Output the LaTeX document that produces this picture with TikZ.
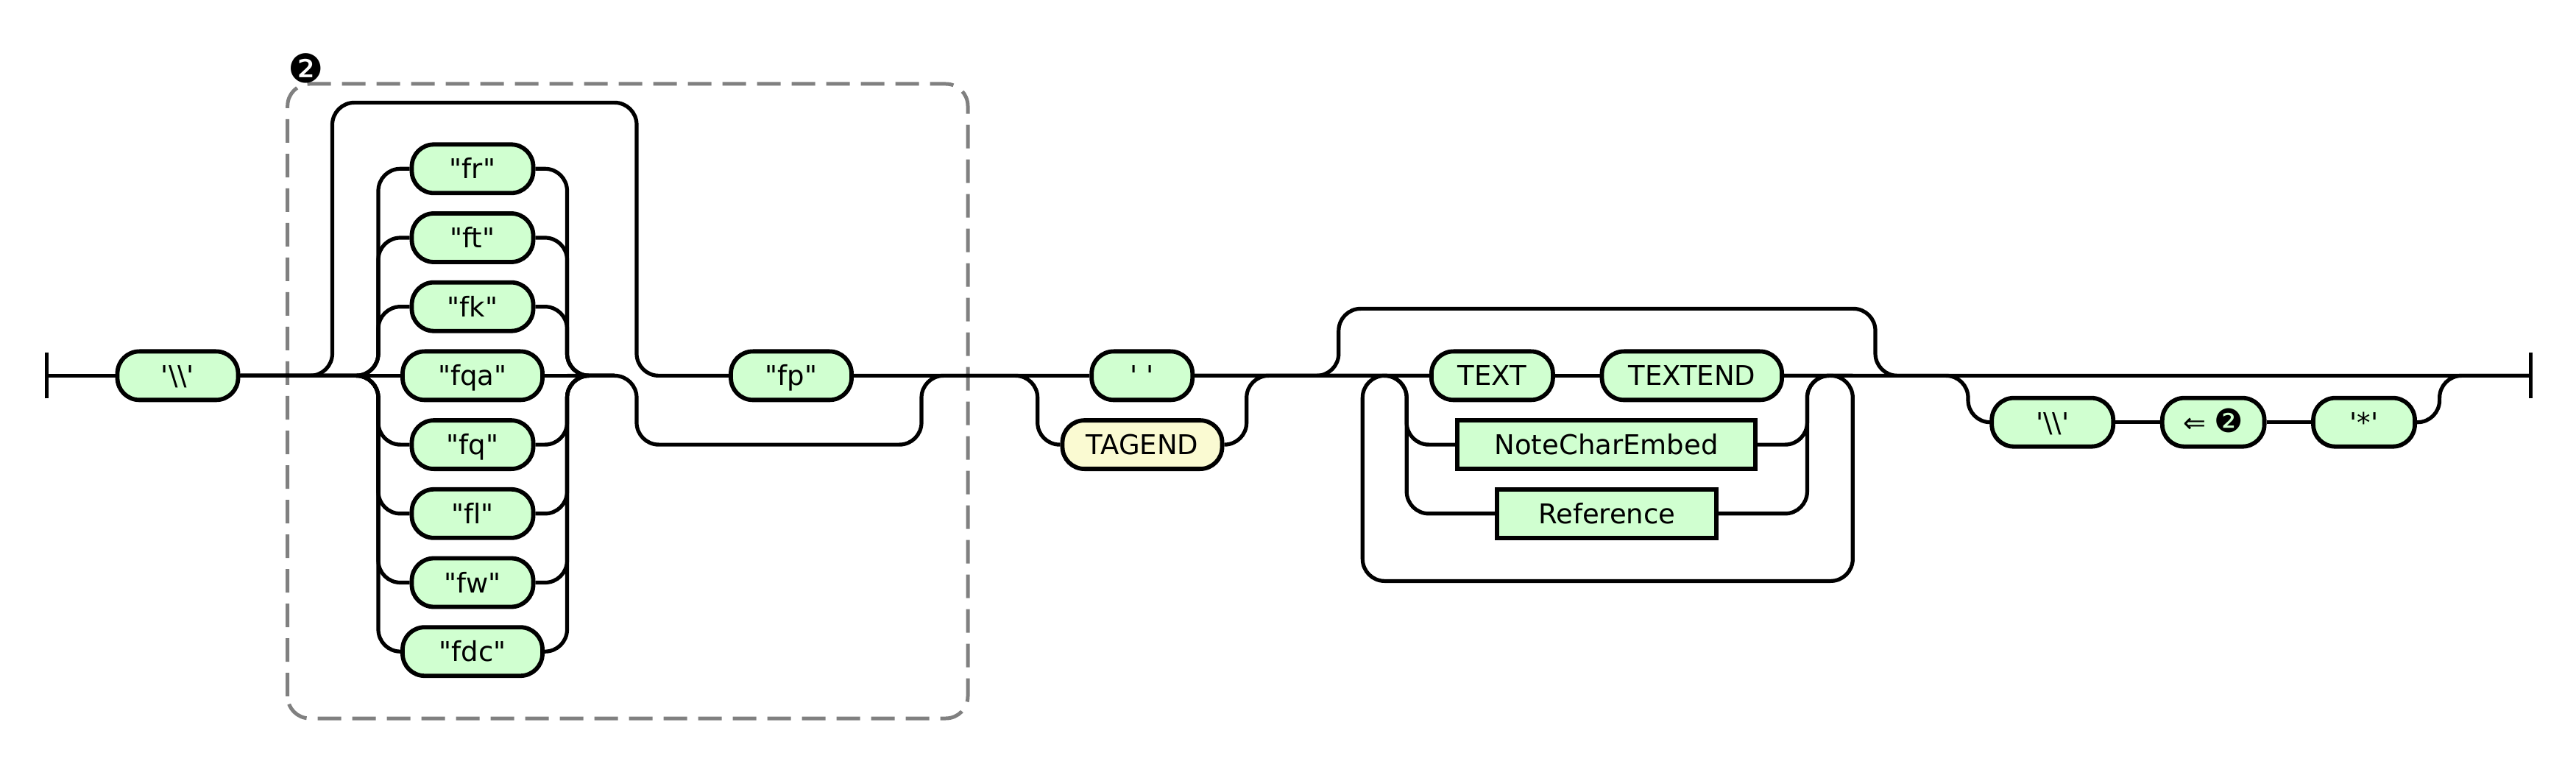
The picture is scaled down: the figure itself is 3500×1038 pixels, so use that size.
\documentclass[tikz,border=0pt]{standalone}
\usepackage{fontspec}
\setmainfont{DejaVu Sans}[Ligatures=NoCommon]
\usepackage{tikz}

\definecolor{termgreen}{RGB}{208,255,208}
\definecolor{tokyellow}{RGB}{250,250,210}
\definecolor{groupgray}{RGB}{128,128,128}

\newcommand{\sq}{\textquotesingle}
\newcommand{\dq}{\textquotedbl}
\newcommand{\grpmark}[1]{{\fontsize{#1}{#1}\selectfont ❷}}

\tikzset{
  term/.style={draw, line width=1.45pt, fill=termgreen, rounded corners=7.5pt,
    minimum height=16.5pt, inner sep=0pt, text height=6.75pt, text depth=0pt,
    font=\fontsize{9.25}{11}\selectfont},
  tok/.style={term, fill=tokyellow},
  nonterm/.style={term, rounded corners=0pt},
  rail/.style={line width=1.3pt, rounded corners=7.5pt},
  group/.style={draw=groupgray, line width=1.25pt, rounded corners=7.5pt,
    dash pattern=on 8pt off 3.75pt},
}

\begin{document}
\begin{tikzpicture}[x=0.25pt, y=0.25pt]
\useasboundingbox (0,-527.6) rectangle (3500,510.4);

%%%%%%%%%%%%%%%%%%Draw The Group Box%%%%%%%%%%%%%%%%%%
\draw[group] (390.7,-465.6) rectangle (1315,396.4);
\node[inner sep=0pt] (grpLabel) at (415.7,418) {\grpmark{13.5}};

%%%%%%%%%%%%%%%%%%Draw The Nodes%%%%%%%%%%%%%%%%%%
\node[term, minimum width=41pt] (bsA) at (241.5,0) {\sq\textbackslash\textbackslash\sq};

\node[term, minimum width=41.25pt] (fr) at (642,281.1) {\dq fr\dq};
\node[term, minimum width=41.25pt] (ft) at (642,187.4) {\dq ft\dq};
\node[term, minimum width=41.25pt] (fk) at (642,93.7) {\dq fk\dq};
\node[term, minimum width=47.5pt] (fqa) at (642,0) {\dq fqa\dq};
\node[term, minimum width=41.25pt] (fq) at (642,-93.7) {\dq fq\dq};
\node[term, minimum width=41.25pt] (fl) at (642,-187.4) {\dq fl\dq};
\node[term, minimum width=41.25pt] (fw) at (642,-281.1) {\dq fw\dq};
\node[term, minimum width=47.5pt] (fdc) at (642,-374.8) {\dq fdc\dq};

\node[term, minimum width=41pt] (fp) at (1075,0) {\dq fp\dq};

\node[term, minimum width=34.25pt] (sp) at (1551.7,0) {\sq\ \sq};
\node[tok, minimum width=54.25pt] (tag) at (1552,-93.7) {TAGEND};

\node[term, minimum width=41.25pt] (text) at (2027.4,0) {TEXT};
\node[term, minimum width=61.15pt] (textend) at (2298.8,0) {TEXTEND};
\node[nonterm, minimum width=101.25pt] (nce) at (2182.6,-93.7) {NoteCharEmbed};
\node[nonterm, minimum width=74.5pt] (ref) at (2183.3,-187.4) {Reference};

\node[term, minimum width=41.25pt] (bsB) at (2788.7,-63.3) {\sq\textbackslash\textbackslash\sq};
\node[term, minimum width=34.7pt] (back) at (3007.2,-63.3) {⇐ \grpmark{11}};
\node[term, minimum width=34.5pt] (star) at (3212,-63.3) {\sq*\sq};

%%%%%%%%%%%%%%%%%%Junction Points%%%%%%%%%%%%%%%%%%
\coordinate (start) at (63.5,0);
\coordinate (stop) at (3438.4,0);
\coordinate (grpIn) at (451.5,0);
\coordinate (chIn) at (514,0);
\coordinate (chOut) at (770.5,0);
\coordinate (fpSkip) at (865,0);
\coordinate (fpBack) at (1252,0);
\coordinate (spIn) at (1409.7,0);
\coordinate (spOut) at (1693.7,0);
\coordinate (txtIn) at (1818.8,0);
\coordinate (txtOut) at (2548,0);
\coordinate (loopL) at (1851.3,0);
\coordinate (loopR) at (2517.3,0);
\coordinate (altIn) at (1911.2,0);
\coordinate (altOut) at (2455.4,0);
\coordinate (tailIn) at (2674,0);
\coordinate (tailOut) at (3314.6,0);

%%%%%%%%%%%%%%%%%%Draw Start and End Bars%%%%%%%%%%%%%%%%%%
\draw[line width=1.45pt] (start) ++(0,-31) -- ++(0,62);
\draw[line width=1.45pt] (stop) ++(0,-31) -- ++(0,62);

%%%%%%%%%%%%%%%%%%Draw The Main Line%%%%%%%%%%%%%%%%%%
\draw[rail] (start) -- (bsA.west);
\draw[rail] (bsA.east) -- (fqa.west);
\draw[rail] (fqa.east) -- (chOut);
\draw[rail] (fp.east) -- (sp.west);
\draw[rail] (sp.east) -- (text.west);
\draw[rail] (text.east) -- (textend.west);
\draw[rail] (textend.east) -- (stop);

%%%%%%%%%%%%%%%%%%Draw The Choice of Flags%%%%%%%%%%%%%%%%%%
\foreach \n in {fr,ft,fk,fq,fl,fw,fdc} {
  \draw[rail] (bsA.east) -- (chIn) |- (\n.west);
  \draw[rail] (\n.east) -| (chOut) -- ++(64.5,0);
}

%%%%%%%%%%%%%%%%%%Draw The Bypasses%%%%%%%%%%%%%%%%%%
\draw[rail] (bsA.east) -- (grpIn) -- ++(0,371) -| (fpSkip) -- (fp.west);
\draw[rail] (chOut) -- (fpSkip) -- ++(0,-93.7) -| (fpBack) -- (sp.west);

\draw[rail] (fp.east) -- (spIn) |- (tag.west);
\draw[rail] (tag.east) -| (spOut) -- (text.west);

\draw[rail] (sp.east) -- (txtIn) -- ++(0,91) -| (txtOut) -- (stop);

%%%%%%%%%%%%%%%%%%Draw The Loop and Its Choice%%%%%%%%%%%%%%%%%%
\draw[rail] (textend.east) -- (loopR) -- ++(0,-279) -| (loopL) -- (text.west);
\draw[rail] (sp.east) -- (altIn) |- (nce.west);
\draw[rail] (sp.east) -- (altIn) |- (ref.west);
\draw[rail] (nce.east) -| (altOut) -- (loopR);
\draw[rail] (ref.east) -| (altOut) -- (loopR);

%%%%%%%%%%%%%%%%%%Draw The Optional Tail%%%%%%%%%%%%%%%%%%
\draw[rail] (textend.east) -- (tailIn) |- (bsB.west);
\draw[rail] (bsB.east) -- (back.west);
\draw[rail] (back.east) -- (star.west);
\draw[rail] (star.east) -| (tailOut) -- (stop);

\end{tikzpicture}
\end{document}
